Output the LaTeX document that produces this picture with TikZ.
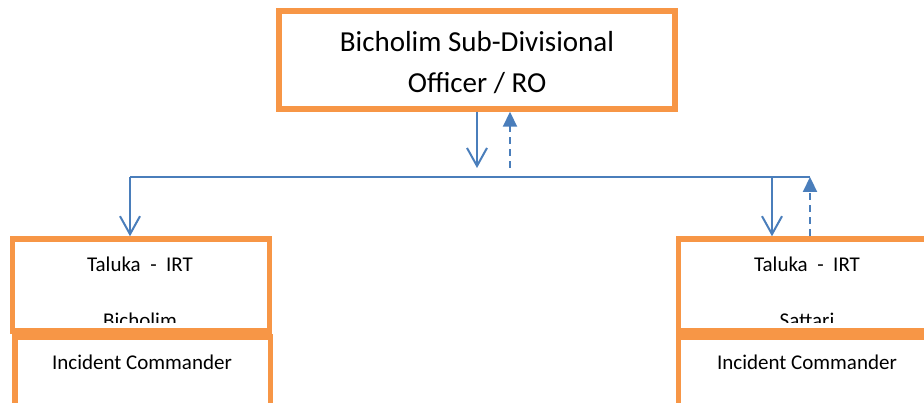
\documentclass[tikz,border=0pt]{standalone}
\usepackage{fontspec}
\setmainfont{Carlito}
\usetikzlibrary{arrows.meta}
\definecolor{boxorange}{HTML}{F79646}
\definecolor{linkblue}{HTML}{4A7EBB}
\begin{document}
\begin{tikzpicture}[x=1pt,y=-1pt,
  orgbox/.style={draw=boxorange,line width=5.5pt,rectangle,inner sep=0pt},
  bigtext/.style={font=\fontsize{29}{41}\selectfont,align=center},
  smalltext/.style={font=\fontsize{21}{25}\selectfont,anchor=base,inner sep=0pt},
  order/.style={draw=linkblue,line width=2pt,-{Straight Barb[length=18pt,width=20pt,line width=2pt]}},
  report/.style={draw=linkblue,line width=2.2pt,dash pattern=on 7pt off 5pt,-{Triangle[length=15pt,width=14pt]}},
  bus/.style={draw=linkblue,line width=2pt}]
\useasboundingbox (0,0) rectangle (924,403);
\clip (0,0) rectangle (924,403);

% head office
\node[orgbox,minimum width=396pt,minimum height=98pt] (top) at (477,60) {};
\node[bigtext,anchor=base] (topl1) at (477,52) {Bicholim Sub-Divisional};
\node[bigtext,anchor=base] (topl2) at (477,93) {Officer / RO};

% taluka teams
\node[orgbox,minimum width=257pt,minimum height=92pt] (irtL) at (141,285) {};
\node[orgbox,minimum width=255.5pt,minimum height=80pt] (icL) at (142.75,377) {};
\node[orgbox,minimum width=262pt,minimum height=92pt] (irtR) at (809.5,285) {};
\node[orgbox,minimum width=262pt,minimum height=80pt] (icR) at (809.5,377) {};

\node[smalltext] (irtLt) at (140,272) {Taluka\ \ -\ \ IRT};
\node[smalltext] (irtRt) at (807,272) {Taluka\ \ -\ \ IRT};
\begin{scope}
  \clip (15,243) rectangle (267,323);
  \node[smalltext] (irtLn) at (140,328) {Bicholim};
\end{scope}
\begin{scope}
  \clip (681,243) rectangle (924,323);
  \node[smalltext] (irtRn) at (807,328) {Sattari};
\end{scope}
\node[smalltext] (icLt) at (142,370) {Incident Commander};
\node[smalltext] (icRt) at (807,370) {Incident Commander};

% distribution line
\coordinate (busL) at (130,177);
\coordinate (busR) at (810,177);
\coordinate (busM) at (477,168);
\draw[bus] (busL) -- (busR);

\draw[order] (top.south -| busM) -- (busM);
\draw[report] (510,168) -- (top.south -| 510,0);
\draw[order] (busL) -- (irtL.north -| busL);
\draw[order] (772,177) -- (irtR.north -| 772,0);
\draw[report] (810,236) -- (busR);
\end{tikzpicture}
\end{document}
